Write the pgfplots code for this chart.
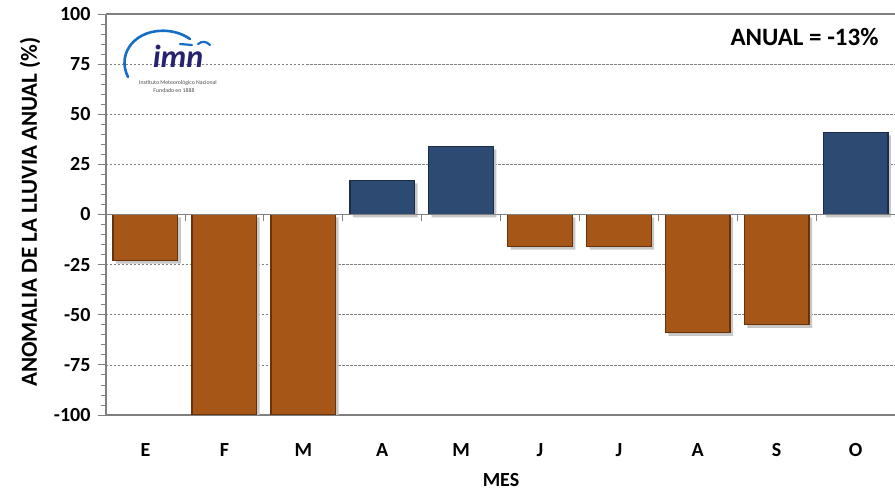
\documentclass[border=0pt]{standalone}
\usepackage{pgfplots}
\pgfplotsset{compat=1.18}
\usepackage{fontspec}
\setmainfont{Carlito}
\definecolor{barorange}{RGB}{166,86,22}
\definecolor{barorangedark}{RGB}{105,50,10}
\definecolor{barblue}{RGB}{44,74,114}
\definecolor{barbluedark}{RGB}{26,44,72}
\definecolor{axisgray}{RGB}{128,128,128}
\definecolor{logonavy}{RGB}{38,34,110}
\definecolor{logoblue}{RGB}{20,110,200}
\begin{document}
\begin{tikzpicture}
\useasboundingbox (-106bp,-77bp) rectangle (789bp,415bp);
\begin{axis}[
  at={(0,0)}, anchor=south west,
  scale only axis, width=789bp, height=401bp,
  xmin=-0.5, xmax=9.5, ymin=-100, ymax=100,
  axis x line=box, axis y line=left,
  axis line style={axisgray, line width=1.2bp, -},
  ytick={-100,-75,...,100}, minor y tick num=4,
  tick align=outside, major tick length=8bp, minor tick length=5bp,
  every tick/.style={axisgray, line width=0.8bp},
  ymajorgrids, grid style={axisgray, dash pattern=on 2.5bp off 1.5bp, line width=0.6bp},
  xtick={0,...,9}, xticklabels={E,F,M,A,M,J,J,A,S,O},
  x tick style={draw=none},
  xticklabel pos=lower,
  tick label style={font=\fontsize{20bp}{24bp}\selectfont\bfseries},
  /pgf/number format/assume math mode=true,
  xticklabel style={yshift=-17bp},
  yticklabel style={xshift=-4bp},
  clip=true,
]
\addplot[ybar, bar width=0.82, bar shift=0pt, fill=barorange, draw=barorangedark, line width=1.4bp,
  preaction={draw=none, fill=black!22, transform canvas={xshift=3bp,yshift=-3bp}}]
  coordinates {(0,-23) (1,-100) (2,-100) (5,-16) (6,-16) (7,-59) (8,-55)};
\addplot[ybar, bar width=0.82, bar shift=0pt, fill=barblue, draw=barbluedark, line width=1.4bp,
  preaction={draw=none, fill=black!22, transform canvas={xshift=3bp,yshift=-3bp}}]
  coordinates {(3,17) (4,34) (9,41)};
\end{axis}
% zero line with category separators
\draw[axisgray, line width=1.2bp] (0,200.5bp) -- (789bp,200.5bp);
\foreach \i in {1,...,9} \draw[axisgray, line width=0.8bp] ({\i*78.9bp},200.5bp) -- ++(0,-7bp);
% labels
\node[rotate=90, font=\fontsize{23bp}{27bp}\selectfont\bfseries] at (-76bp,203bp) {ANOMALIA DE LA LLUVIA ANUAL (\%)};
\node[font=\fontsize{20bp}{24bp}\selectfont\bfseries] at (395bp,-65bp) {MES};
\node[anchor=east, font=\fontsize{25bp}{30bp}\selectfont\bfseries] at (776bp,378bp) {ANUAL = -13\%};
% logo
\draw[logoblue, line width=2.6bp, line cap=round] (22bp,338bp) .. controls (10bp,362bp) and (30bp,387bp) .. (62bp,384bp) .. controls (72bp,383bp) and (80bp,379bp) .. (84bp,376bp);
\draw[logoblue, line width=2.2bp, line cap=round] (74bp,371bp) -- (86bp,370bp);
\draw[logoblue, line width=2.2bp, line cap=round] (92bp,371bp) .. controls (96bp,374bp) and (100bp,374bp) .. (104bp,370bp);
\node[logonavy, anchor=base, inner sep=0pt, font=\fontsize{32bp}{34bp}\selectfont\itshape\bfseries] at (72bp,347bp) {imn};
\node[inner sep=0pt, font=\fontsize{5.8bp}{7bp}\selectfont, black!70] at (72bp,332bp) {Instituto Meteorológico Nacional};
\node[inner sep=0pt, font=\fontsize{5.8bp}{7bp}\selectfont, black!70] at (68bp,324bp) {Fundado en 1888};
\end{tikzpicture}
\end{document}
